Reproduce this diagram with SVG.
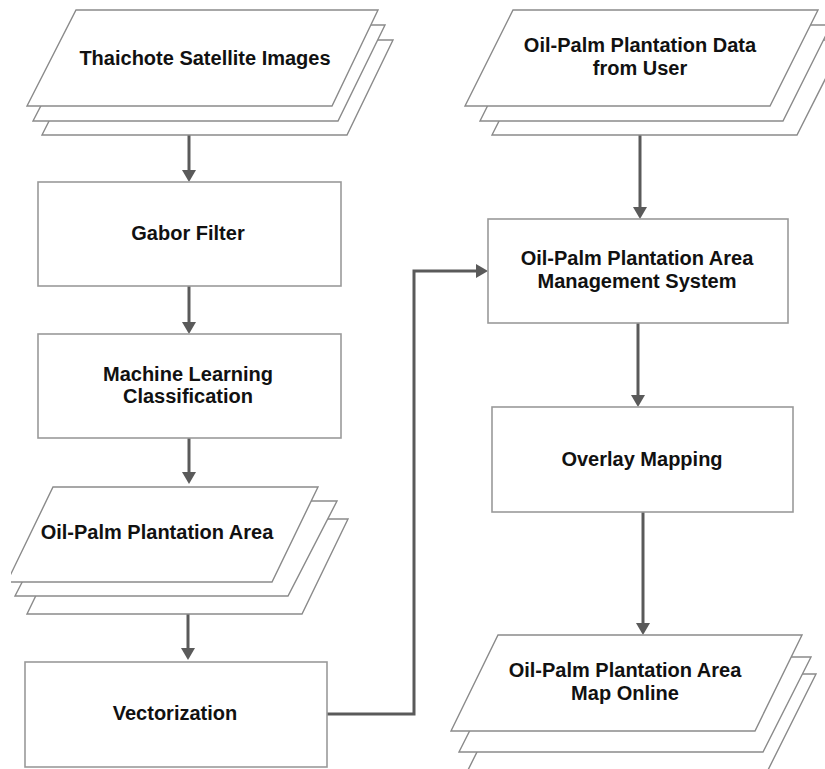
<svg xmlns="http://www.w3.org/2000/svg" width="825" height="769" viewBox="0 0 825 769">
<style>
.box{fill:#fff;stroke:#9a9a9a;stroke-width:1.6}
.pg{fill:#fff;stroke:#8a8a8a;stroke-width:1.4;stroke-linejoin:miter}
.lbl{font-family:"Liberation Sans",Arial,sans-serif;font-weight:bold;font-size:20px;fill:#111;text-anchor:middle}
.con{fill:none;stroke:#5a5a5a;stroke-width:3}
.head{fill:#5a5a5a}
</style>
<defs>
<clipPath id="clipL"><rect x="11" y="0" width="814" height="769"/></clipPath>
</defs>
<rect width="825" height="769" fill="#fff"/>

<g id="connectors">
<line class="con" x1="189" y1="135" x2="189" y2="172"/>
<polygon class="head" points="182,170 196,170 189,182"/>
<line class="con" x1="189" y1="286" x2="189" y2="324"/>
<polygon class="head" points="182,322 196,322 189,334"/>
<line class="con" x1="189" y1="438" x2="189" y2="474"/>
<polygon class="head" points="182,472 196,472 189,484"/>
<line class="con" x1="188" y1="614" x2="188" y2="650"/>
<polygon class="head" points="181,648 195,648 188,660"/>
<polyline class="con" points="327,714 414,714 414,271 478,271"/>
<polygon class="head" points="476,264 476,278 488,271"/>
<line class="con" x1="640" y1="135" x2="640" y2="209"/>
<polygon class="head" points="633,207 647,207 640,219"/>
<line class="con" x1="638" y1="323" x2="638" y2="397"/>
<polygon class="head" points="631,395 645,395 638,407"/>
<line class="con" x1="643" y1="512" x2="643" y2="625"/>
<polygon class="head" points="636,623 650,623 643,635"/>
</g>

<g id="thaichote">
<polygon class="pg" points="90,40 393,40 347,135 42,135"/>
<polygon class="pg" points="83,25 385,25 338,121 33,121"/>
<polygon class="pg" points="76,10 378,10 332,106 27,106"/>
<text class="lbl" x="205" y="65">Thaichote Satellite Images</text>
</g>

<g id="gabor">
<rect class="box" x="38" y="182" width="303" height="104"/>
<text class="lbl" x="188" y="240">Gabor Filter</text>
</g>

<g id="ml">
<rect class="box" x="38" y="334" width="303" height="104"/>
<text class="lbl" x="188" y="381">Machine Learning</text>
<text class="lbl" x="188" y="403">Classification</text>
</g>

<g id="area" clip-path="url(#clipL)">
<polygon class="pg" points="73,519 348,519 302,614 27,614"/>
<polygon class="pg" points="64,501 337,501 288,596 15,596"/>
<polygon class="pg" points="53,487 318,487 272,582 7,582"/>
<text class="lbl" x="157" y="539">Oil-Palm Plantation Area</text>
</g>

<g id="vectorization">
<rect class="box" x="25" y="662" width="302" height="105"/>
<text class="lbl" x="175" y="720">Vectorization</text>
</g>

<g id="userdata">
<polygon class="pg" points="540,40 845,40 797,135 492,135"/>
<polygon class="pg" points="528,25 831,25 783,121 480,121"/>
<polygon class="pg" points="513,10 818,10 770,106 465,106"/>
<text class="lbl" x="640" y="52">Oil-Palm Plantation Data</text>
<text class="lbl" x="640" y="75">from User</text>
</g>

<g id="management">
<rect class="box" x="488" y="219" width="300" height="104"/>
<text class="lbl" x="637" y="265">Oil-Palm Plantation Area</text>
<text class="lbl" x="637" y="288">Management System</text>
</g>

<g id="overlay">
<rect class="box" x="492" y="407" width="301" height="105"/>
<text class="lbl" x="642" y="466">Overlay Mapping</text>
</g>

<g id="maponline">
<polygon class="pg" points="516,674 816,674 768,770 468,770"/>
<polygon class="pg" points="507,657 811,657 763,752 459,752"/>
<polygon class="pg" points="498,635 802,635 755,731 451,731"/>
<text class="lbl" x="625" y="677">Oil-Palm Plantation Area</text>
<text class="lbl" x="625" y="700">Map Online</text>
</g>
</svg>
